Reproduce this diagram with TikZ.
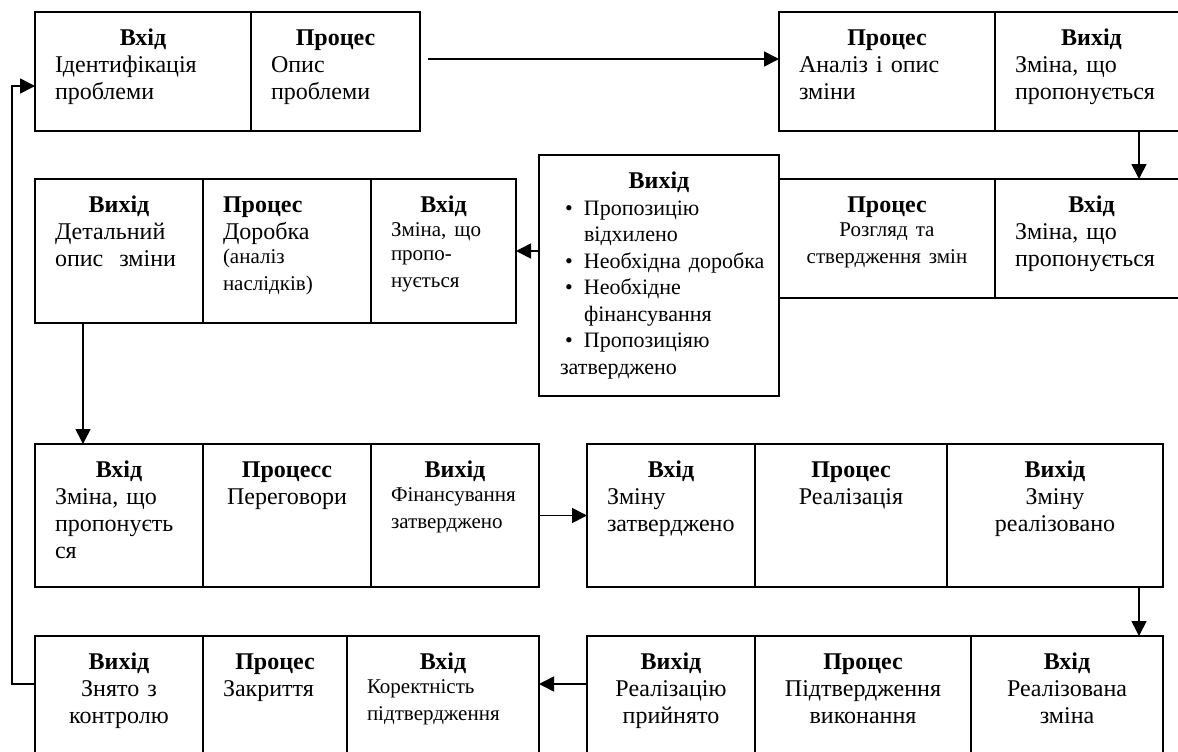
\documentclass[tikz,border=0pt]{standalone}
\usepackage{fontspec}
\setmainfont{Liberation Serif}
\usetikzlibrary{arrows.meta,positioning}
\hyphenpenalty=10000
\newcommand\norm{\fontsize{12}{13.5}\selectfont}
\newcommand\md{\fontsize{11}{13.25}\selectfont}
\newcommand\sm{\fontsize{10.5}{12}\selectfont}
\newcommand\hd[1]{\makebox[\hsize]{\bfseries\strut #1}}
\newcommand\hdl[1]{{\bfseries\strut #1}}
\newcommand\bul{\makebox[12pt][l]{\hspace{2.5pt}•}}

\begin{document}
\begin{tikzpicture}[x=0.5pt, y=-0.5pt,
    cell/.style={draw, line width=0.8pt, inner sep=0pt, outer sep=0pt, anchor=north west},
    rowa/.style={cell, minimum height=59.5pt},
    rowc/.style={cell, minimum height=72pt},
    rowf/.style={cell, minimum height=71.5pt},
    rowh/.style={cell, minimum height=80pt},
    txt/.style={inner sep=0pt, outer sep=0pt, align=left, font=\norm},
    ctxt/.style={txt, align=center},
    arr/.style={-{Triangle[length=7.5pt,width=7.5pt]}, line width=0.8pt}]
    \clip (0,0) rectangle (1178,751);
    % row 1
    \node[rowa, minimum width=108pt] (a1) at (35,12) {};
    \node[rowa, minimum width=84.5pt, right=0pt of a1] (a2) {};
    \node[rowa, minimum width=108pt] (b1) at (779,12) {};
    \node[rowa, minimum width=96.5pt, right=0pt of b1] (b2) {};
    \node[txt, text width=88pt, below right=7.4pt and 10pt of a1.north west] (a1t) {\hd{Вхід}\\Ідентифікація\\проблеми};
    \node[txt, text width=64.5pt, below right=7.4pt and 10pt of a2.north west] (a2t) {\hd{Процес}\\Опис\\проблеми};
    \node[txt, text width=88pt, below right=7.4pt and 10pt of b1.north west] (b1t) {\hd{Процес}\\Аналіз і опис\\зміни};
    \node[txt, text width=76.5pt, below right=7.4pt and 10pt of b2.north west] (b2t) {\hd{Вихід}\\Зміна, що\\пропонується};
    % row 2
    \node[rowc, minimum width=84pt] (c1) at (35,179) {};
    \node[rowc, minimum width=84pt, right=0pt of c1] (c2) {};
    \node[rowc, minimum width=72.5pt, right=0pt of c2] (c3) {};
    \node[cell, minimum width=120pt, minimum height=120.5pt] (d) at (539,155) {};
    \node[rowa, minimum width=108pt] (e1) at (779,179) {};
    \node[rowa, minimum width=96.5pt, right=0pt of e1] (e2) {};
    \node[txt, text width=64pt, below right=7.4pt and 10pt of c1.north west] (c1t) {\hd{Вихід}\\Детальний\\опис\ \ зміни};
    \node[txt, text width=64pt, below right=7.4pt and 10pt of c2.north west] (c2t) {\hdl{Процес}\\Доробка\\\sm(аналіз\\наслідків)};
    \node[txt, text width=52.5pt, below right=7.4pt and 10pt of c3.north west] (c3t) {\hd{Вхід}\sm\\Зміна, що\\пропо-\\нується};
    \node[txt, text width=99pt, below right=7.4pt and 10.5pt of d.north west] (dt) {\hd{Вихід}\md\\
        \bul Пропозицію\\\hspace*{12pt}відхилено\\
        \bul Необхідна~доробка\\
        \bul Необхідне\\\hspace*{12pt}фінансування\\
        \bul Пропозиціяю\\затверджено};
    \node[ctxt, text width=88pt, below right=7.4pt and 10pt of e1.north west] (e1t) {\hd{Процес}\sm\\Розгляд та\\ствердження змін};
    \node[txt, text width=76.5pt, below right=7.4pt and 10pt of e2.north west] (e2t) {\hd{Вхід}\\Зміна, що\\пропонується};
    % row 3
    \node[rowf, minimum width=84pt] (f1) at (35,444) {};
    \node[rowf, minimum width=84pt, right=0pt of f1] (f2) {};
    \node[rowf, minimum width=84pt, right=0pt of f2] (f3) {};
    \node[rowf, minimum width=84pt] (g1) at (587,444) {};
    \node[rowf, minimum width=96pt, right=0pt of g1] (g2) {};
    \node[rowf, minimum width=108pt, right=0pt of g2] (g3) {};
    \node[txt, text width=64pt, below right=7.4pt and 10pt of f1.north west] (f1t) {\hd{Вхід}\\Зміна, що\\пропонуєть\\ся};
    \node[ctxt, text width=64pt, below right=7.4pt and 10pt of f2.north west] (f2t) {\hd{Процесс}\\Переговори};
    \node[txt, text width=64pt, below right=7.4pt and 10pt of f3.north west] (f3t) {\hd{Вихід}\sm\\Фінансування\\затверджено};
    \node[txt, text width=64pt, below right=7.4pt and 10pt of g1.north west] (g1t) {\hd{Вхід}\\Зміну\\затверджено};
    \node[ctxt, text width=76pt, below right=7.4pt and 10pt of g2.north west] (g2t) {\hd{Процес}\\Реалізація};
    \node[ctxt, text width=88pt, below right=7.4pt and 10pt of g3.north west] (g3t) {\hd{Вихід}\\Зміну\\реалізовано};
    % row 4
    \node[rowh, minimum width=84pt] (h1) at (35,636) {};
    \node[rowh, minimum width=72pt, right=0pt of h1] (h2) {};
    \node[rowh, minimum width=96pt, right=0pt of h2] (h3) {};
    \node[rowh, minimum width=84pt] (i1) at (587,636) {};
    \node[rowh, minimum width=108pt, right=0pt of i1] (i2) {};
    \node[rowh, minimum width=96pt, right=0pt of i2] (i3) {};
    \node[ctxt, text width=64pt, below right=7.4pt and 10pt of h1.north west] (h1t) {\hd{Вихід}\\Знято з\\контролю};
    \node[txt, text width=52pt, below right=7.4pt and 10pt of h2.north west] (h2t) {\hd{Процес}\\Закриття};
    \node[txt, text width=76pt, below right=7.4pt and 10pt of h3.north west] (h3t) {\hd{Вхід}\sm\\Коректність\\підтвердження};
    \node[ctxt, text width=64pt, below right=7.4pt and 10pt of i1.north west] (i1t) {\hd{Вихід}\\Реалізацію\\прийнято};
    \node[ctxt, text width=88pt, below right=7.4pt and 10pt of i2.north west] (i2t) {\hd{Процес}\\Підтвердження\\виконання};
    \node[ctxt, text width=76pt, below right=7.4pt and 10pt of i3.north west] (i3t) {\hd{Вхід}\\Реалізована\\зміна};
    % connectors
    \draw[arr] ([xshift=4pt, yshift=6.25pt]a2.east) -- ([yshift=6.25pt]b1.west);
    \draw[arr] ([xshift=23.75pt]b2.south) -- ([xshift=23.75pt]e2.north);
    \draw[arr] (d.west |- c3.east) -- (c3.east);
    \draw[arr] ([xshift=-18pt]c1.south) -- ([xshift=-18pt]f1.north);
    \draw[arr] (f3.east) -- (g1.west);
    \draw[arr] ([xshift=42pt]g3.south) -- ([xshift=42pt]g3.south |- i3.north);
    \draw[arr] ([yshift=-24pt]i1.north west) -- ([yshift=-24pt]h3.north east);
    \draw[arr] ([yshift=-24pt]h1.north west) -- ++(-11.5pt,0) |- ([yshift=-7.25pt]a1.west);
\end{tikzpicture}
\end{document}
